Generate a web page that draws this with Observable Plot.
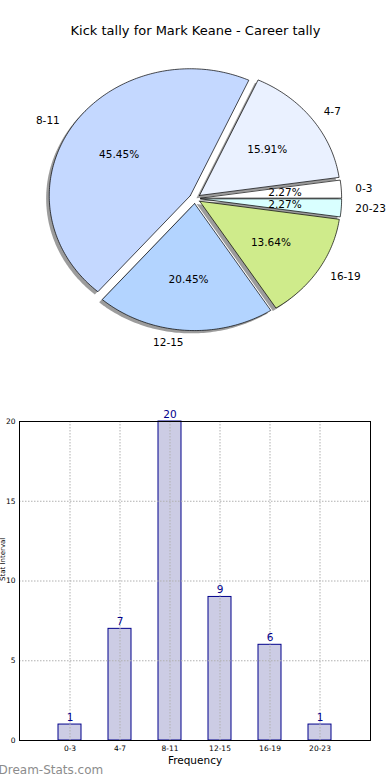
<!DOCTYPE html>
<html><head><meta charset="utf-8">
<script src="https://cdn.jsdelivr.net/npm/d3@7"></script>
<script src="https://cdn.jsdelivr.net/npm/@observablehq/plot@0.6"></script>
<style>
body{margin:0;background:#fff;font-family:"DejaVu Sans",sans-serif;}
#c svg{display:block}
</style></head><body><div id="c"></div>
<script>
const title = "Kick tally for Mark Keane - Career tally";
const categories = ["0-3","4-7","8-11","12-15","16-19","20-23"];
const counts = [1,7,20,9,6,1];
const pieColors = ["#ffffff","#eaf1ff","#c4d8ff","#b3d4ff","#cfeb8b","#d9ffff"];
const xLabel = "Frequency";
const yLabel = "Stat Interval";
const yTicks = [0,5,10,15,20];
const watermark = "Dream-Stats.com";

const W = 390, H1 = 390, H2 = 390;
const cx = 194.5, cy = 198, rx = 141, ry = 127;
const explode = 0.04, shadowOff = 0.022;
const total = d3.sum(counts);
let acc = 0;
const slices = categories.map((c, i) => {
  const a0 = acc / total * 2 * Math.PI; acc += counts[i];
  const a1 = acc / total * 2 * Math.PI;
  const m = (a0 + a1) / 2;
  return {cat: c, value: counts[i], a0, a1, m,
    ox: explode * Math.cos(m), oy: explode * Math.sin(m),
    pct: (counts[i] / total * 100).toFixed(2) + "%"};
});
const outline = [];
for (const s of slices) {
  const n = Math.max(2, Math.ceil((s.a1 - s.a0) / (Math.PI / 180)));
  outline.push({cat: s.cat, x: s.ox, y: s.oy});
  for (let k = 0; k <= n; k++) {
    const a = s.a0 + (s.a1 - s.a0) * k / n;
    outline.push({cat: s.cat, x: s.ox + Math.cos(a), y: s.oy + Math.sin(a)});
  }
  outline.push({cat: s.cat, x: s.ox, y: s.oy});
}
const lx = d => d.ox + 1.1 * Math.cos(d.m), ly = d => d.oy + 1.1 * Math.sin(d.m);

const pie = Plot.plot({
  width: W, height: H1, margin: 0,
  x: {domain: [-cx / rx, (W - cx) / rx], axis: null},
  y: {domain: [-(H1 - cy) / ry, cy / ry], axis: null},
  color: {domain: categories, range: pieColors},
  style: {fontFamily: "DejaVu Sans", fontSize: "10.5px", background: "white"},
  marks: [
    Plot.line(outline, {x: d => d.x - shadowOff, y: d => d.y - shadowOff, z: "cat", fill: "#3a3a3a", fillOpacity: 0.5, stroke: "none"}),
    Plot.line(outline, {x: "x", y: "y", z: "cat", fill: "cat", stroke: "black", strokeWidth: 0.7}),
    Plot.text(slices, {x: d => d.ox + 0.6 * Math.cos(d.m), y: d => d.oy + 0.6 * Math.sin(d.m), text: "pct", fill: "black"}),
    Plot.text(slices.filter(d => lx(d) > 0), {x: lx, y: ly, text: "cat", textAnchor: "start", fill: "black"}),
    Plot.text(slices.filter(d => lx(d) <= 0), {x: lx, y: ly, text: "cat", textAnchor: "end", fill: "black"}),
    Plot.text([title], {frameAnchor: "top", dy: 30, lineAnchor: "middle", fontSize: 13, fill: "black"})
  ]
});

const bars = categories.map((c, i) => ({cat: c, value: counts[i]}));
const bar = Plot.plot({
  width: W, height: H2, marginLeft: 19, marginRight: 20, marginTop: 31, marginBottom: 40,
  x: {domain: categories, paddingInner: 0.54, paddingOuter: 0.78, axis: null},
  y: {domain: [0, 20], axis: null},
  style: {fontFamily: "DejaVu Sans", background: "white", overflow: "visible"},
  marks: [
    Plot.barY(bars, {x: "cat", y: "value", fill: "#ccccE4", stroke: "#00008b", strokeWidth: 1}),
    Plot.ruleX(categories, {x: d => d, stroke: "#b0b0b0", strokeDasharray: "1.5,1.5"}),
    Plot.ruleY(yTicks, {y: d => d, stroke: "#b0b0b0", strokeDasharray: "1.5,1.5"}),
    Plot.frame({stroke: "black"}),
    Plot.text(bars, {x: "cat", y: "value", text: d => String(d.value), lineAnchor: "bottom", dy: -4, fill: "#00008b", fontSize: 10.5}),
    Plot.text(yTicks, {y: d => d, frameAnchor: "left", textAnchor: "end", dx: -4, fontSize: 7.5, fill: "black"}),
    Plot.text(categories, {x: d => d, frameAnchor: "bottom", lineAnchor: "top", dy: 5, fontSize: 7.5, fill: "black"}),
    Plot.text([xLabel], {frameAnchor: "bottom", dy: 20, lineAnchor: "middle", fontSize: 10.5, fill: "black"}),
    Plot.text([yLabel], {frameAnchor: "left", rotate: -90, dx: -19, lineAnchor: "top", fontSize: 7, fill: "black"}),
    Plot.text([watermark], {frameAnchor: "bottom-left", dx: -21, dy: 30, textAnchor: "start", lineAnchor: "middle", fill: "#8c8c8c", fontSize: 12})
  ]
});

document.getElementById("c").append(pie, bar);
</script></body></html>
